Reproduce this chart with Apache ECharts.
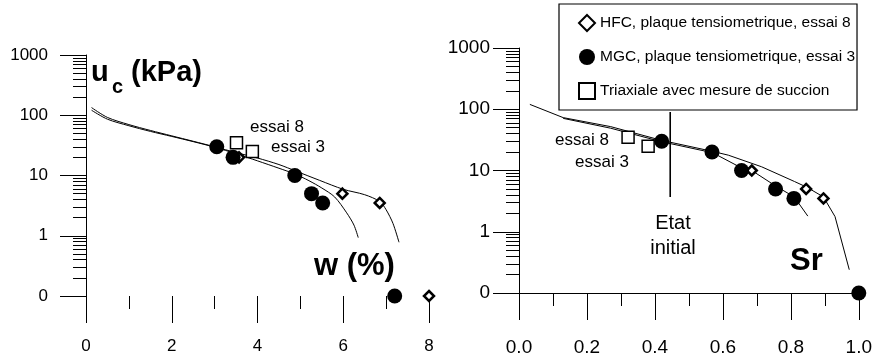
<!DOCTYPE html>
<html>
<head>
<meta charset="utf-8">
<script src="https://cdn.jsdelivr.net/npm/echarts@6/dist/echarts.min.js"></script>
<style>
html,body{margin:0;padding:0;background:#fff;}
#main{width:875px;height:360px;}
</style>
</head>
<body>
<div id="main"></div>
<script>
// noms des series (legende)
var nomHFC = 'HFC, plaque tensiometrique, essai 8';
var nomMGC = 'MGC, plaque tensiometrique, essai 3';
var nomTri = 'Triaxiale avec mesure de succion';

// panneau gauche : uc (kPa) = f(w %)
var gHFC = [[3.57,20],[5.98,5],[6.85,3.5],[8,0.1]];
var gMGC = [[3.05,30],[3.43,20],[4.87,10],[5.26,5],[5.52,3.5],[7.2,0.1]];
var gTri = [[3.51,35],[3.88,25]];
var gCourbe8 = [[0.13,134],[0.5,92],[1,70],[1.5,56],[2,45.5],[2.5,37],[3,30],[3.5,24],[4,19.5],[4.5,15.2],[4.9,11.8],[5.45,8.3],[6,5.9],[6.5,4.8],[6.85,3.7],[7.0,2.7],[7.16,1.6],[7.3,0.78]];
var gCourbe3 = [[0.13,121],[0.5,86],[1,67],[1.5,54],[2,44.5],[2.5,36.5],[3,29.5],[3.5,23],[4,17.5],[4.5,13.2],[4.87,10.6],[5.2,8.2],[5.5,6.2],[5.8,4.4],[6.08,2.4],[6.25,1.5],[6.35,0.93]];

// panneau droit : uc (kPa) = f(Sr)
var dHFC = [[0.685,10],[0.845,5],[0.896,3.5]];
var dMGC = [[0.42,30],[0.568,20],[0.655,10],[0.755,5],[0.809,3.5],[1.0,0.1]];
var dTri = [[0.321,35],[0.38,25]];
var dCourbe8 = [[0.032,120],[0.13,73],[0.27,52],[0.42,31],[0.57,20.5],[0.616,17.8],[0.714,11.5],[0.811,6.6],[0.848,5.3],[0.896,3.7],[0.93,1.77],[0.972,0.24]];
var dCourbe3 = [[0.13,71],[0.27,49],[0.42,29.5],[0.57,19.5],[0.655,11],[0.69,9.6],[0.755,5.6],[0.81,3.7],[0.85,1.8]];
var etatInitial = [[0.445,90],[0.445,3.7]];

// graduations
var yMineures = [0.2,0.3,0.4,0.5,0.6,0.7,0.8,0.9,2,3,4,5,6,7,8,9,20,30,40,50,60,70,80,90,200,300,400,500,600,700,800,900];

var police = '"Liberation Sans", Arial, sans-serif';
var noir = '#000';

function axeX(grille, max, intervalle, ligne, marge, taille, fmt) {
	return {
		gridIndex : grille,
		type : 'value',
		min : 0,
		max : max,
		interval : intervalle,
		axisLine : { show : ligne, onZero : false, lineStyle : { color : noir, width : 1 } },
		axisTick : { show : true, length : 27, lineStyle : { color : noir, width : 1 } },
		minorTick : { show : true, splitNumber : 2, length : 13, lineStyle : { color : noir, width : 1 } },
		axisLabel : { margin : marge, color : noir, fontFamily : police, fontSize : taille, formatter : fmt },
		splitLine : { show : false }
	};
}
function axeY(grille, marge, taille) {
	return {
		gridIndex : grille,
		type : 'log',
		logBase : 10,
		min : 0.1,
		max : 1000,
		position : 'left',
		axisLine : { show : true, onZero : false, lineStyle : { color : noir, width : 1 } },
		axisTick : { show : true, length : 26, lineStyle : { color : noir, width : 1 } },
		axisLabel : {
			margin : marge, color : noir, fontFamily : police, fontSize : taille,
			formatter : function(v){ return v < 1 ? '0' : String(Math.round(v)); }
		},
		splitLine : { show : false }
	};
}
function axeYMineur(grille) {
	return {
		gridIndex : grille,
		type : 'log',
		logBase : 10,
		min : 0.1,
		max : 1000,
		position : 'left',
		offset : 0,
		axisLine : { show : false },
		axisTick : { show : true, length : 13, customValues : yMineures, lineStyle : { color : noir, width : 1 } },
		axisLabel : { show : false },
		splitLine : { show : false }
	};
}
function courbe(x, y, data, lisse) {
	return {
		type : 'line', xAxisIndex : x, yAxisIndex : y, data : data,
		smooth : lisse, showSymbol : false, symbol : 'none', silent : true, z : 1,
		lineStyle : { color : noir, width : 1 }
	};
}
function points(nom, x, y, data, forme) {
	var s = {
		name : nom, type : 'scatter', xAxisIndex : x, yAxisIndex : y, data : data, clip : false, z : 3
	};
	if (forme == 'diamond') {
		s.symbol = 'diamond'; s.symbolSize = 10;
		s.itemStyle = { color : '#fff', borderColor : noir, borderWidth : 2.5, opacity : 1 };
	} else if (forme == 'circle') {
		s.symbol = 'circle'; s.symbolSize = 15; s.z = 4;
		s.itemStyle = { color : noir, opacity : 1 };
	} else {
		s.symbol = 'rect'; s.symbolSize = 12;
		s.itemStyle = { color : '#fff', borderColor : noir, borderWidth : 1.5, opacity : 1 };
	}
	return s;
}
function texte(x, y, t, font, align) {
	return { type : 'text', x : x, y : y, silent : true,
		style : { text : t, font : font, fill : noir, textAlign : align || 'left', textVerticalAlign : 'middle' } };
}

var chart = echarts.init(document.getElementById('main'));
var option = {
	backgroundColor : '#fff',
	animation : false,
	grid : [
		{ left : 86, top : 55, width : 343, height : 241 },
		{ left : 519, top : 48, width : 342, height : 245 }
	],
	xAxis : [
		axeX(0, 8, 2, false, 42, 17, function(v){ return String(v); }),
		axeX(1, 1, 0.2, true, 45, 19, function(v){ return v.toFixed(1); })
	],
	yAxis : [ axeY(0, 38, 17), axeYMineur(0), axeY(1, 29, 19), axeYMineur(1) ],
	legend : {
		left : 559, top : 4,
		orient : 'vertical',
		padding : [10, 2, 10, 19],
		itemGap : 17,
		itemWidth : 16, itemHeight : 16,
		itemTextGap : 13,
		borderColor : noir, borderWidth : 1.2,
		backgroundColor : '#fff',
		selectedMode : false,
		textStyle : { color : noir, fontFamily : police, fontSize : 15.5 },
		data : [ nomHFC, nomMGC, nomTri ]
	},
	series : [
		courbe(0, 0, gCourbe8, 0.3),
		courbe(0, 0, gCourbe3, 0.3),
		courbe(1, 2, dCourbe8, false),
		courbe(1, 2, dCourbe3, false),
		{ type : 'line', xAxisIndex : 1, yAxisIndex : 2, data : etatInitial, symbol : 'none', silent : true,
			lineStyle : { color : noir, width : 1.6 }, z : 2 },
		points(nomHFC, 0, 0, gHFC, 'diamond'),
		points(nomMGC, 0, 0, gMGC, 'circle'),
		points(nomTri, 0, 0, gTri, 'rect'),
		points(nomHFC, 1, 2, dHFC, 'diamond'),
		points(nomMGC, 1, 2, dMGC, 'circle'),
		points(nomTri, 1, 2, dTri, 'rect')
	],
	graphic : [
		texte(91, 73, 'u', 'bold 29px ' + police),
		texte(112, 87, 'c', 'bold 20px ' + police),
		texte(131, 73, '(kPa)', 'bold 29px ' + police),
		texte(314, 266, 'w (%)', 'bold 31px ' + police),
		texte(790, 261, 'Sr', 'bold 31px ' + police),
		texte(673, 223, 'Etat', '20px ' + police, 'center'),
		texte(673, 248, 'initial', '20px ' + police, 'center'),
		texte(250, 127, 'essai 8', '17px ' + police),
		texte(271, 147, 'essai 3', '17px ' + police),
		texte(555, 140, 'essai 8', '17px ' + police),
		texte(575, 162, 'essai 3', '17px ' + police)
	]
};
chart.setOption(option);
</script>
</body>
</html>
